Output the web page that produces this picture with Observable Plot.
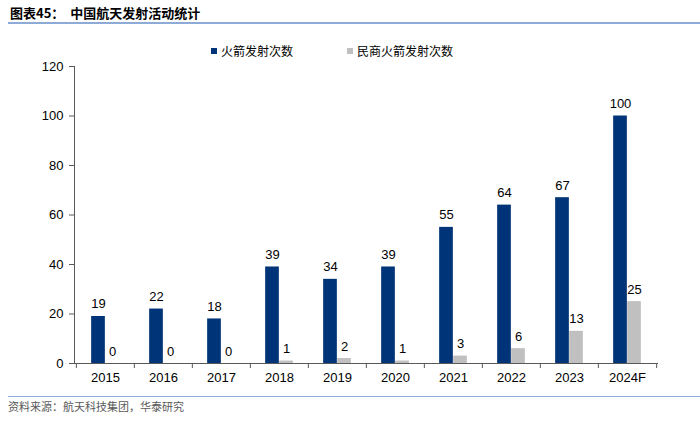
<!DOCTYPE html>
<html>
<head>
<meta charset="utf-8">
<script src="https://cdn.jsdelivr.net/npm/d3@7"></script>
<script src="https://cdn.jsdelivr.net/npm/@observablehq/plot@0.6"></script>
<style>
  body { margin: 0; background: #fff; }
  #wrap { position: relative; width: 700px; height: 421px; overflow: hidden; background: #fff; }
  #title { position: absolute; left: 10px; top: 3px; font-size: 13px; font-weight: bold; color: #000;
           font-family: "Noto Sans CJK SC", "Liberation Sans", sans-serif; white-space: nowrap; }
  #tline { position: absolute; left: 8px; right: 0; top: 22px; height: 2px; background: #8eaad6; }
  #legend { position: absolute; top: 42px; left: 0; width: 700px; height: 18px;
            font-family: "Noto Sans CJK SC", sans-serif; font-size: 12px; color: #000; }
  .li { position: absolute; top: 0; display: flex; align-items: center; white-space: nowrap; }
  .sw { width: 6px; height: 6px; margin-right: 4px; }
  #chart { position: absolute; left: 0; top: 54px; }
  #cline { position: absolute; left: 8px; right: 0; top: 396px; height: 1px; background: #8eaad6; }
  #caption { position: absolute; left: 8px; top: 398px; font-size: 11px; color: #595959;
             font-family: "Noto Sans CJK SC", sans-serif; white-space: nowrap; }
</style>
</head>
<body>
<div id="wrap">
  <div id="title">图表45：&nbsp;&nbsp;中国航天发射活动统计</div>
  <div id="tline"></div>
  <div id="legend"></div>
  <div id="chart"></div>
  <div id="cline"></div>
  <div id="caption">资料来源：航天科技集团，华泰研究</div>
</div>
<script>
const years = ["2015","2016","2017","2018","2019","2020","2021","2022","2023","2024F"];
const launches = [19, 22, 18, 39, 34, 39, 55, 64, 67, 100];
const commercial = [0, 0, 0, 1, 2, 1, 3, 6, 13, 25];
const seriesNames = ["火箭发射次数", "民商火箭发射次数"];
const seriesColors = ["#003478", "#c0c0c0"];
const yTicks = [0, 20, 40, 60, 80, 100, 120];

const W = 700, H = 336, mL = 74, mR = 43, mT = 12, mB = 27;
const bw = (W - mL - mR) / years.length;
const barW = 14;

const rowsA = years.map((y, i) => ({year: y, value: launches[i]}));
const rowsB = years.map((y, i) => ({year: y, value: commercial[i]}));

const plot = Plot.plot({
  width: W, height: H,
  marginLeft: mL, marginRight: mR, marginTop: mT, marginBottom: mB,
  style: {fontFamily: "'Liberation Sans', Arial, sans-serif", fontSize: "13px", color: "#000", background: "transparent"},
  x: {domain: years, padding: 0, label: null},
  y: {domain: [0, 120], label: null},
  marks: [
    Plot.barY(rowsA, {x: "year", y: "value", fill: seriesColors[0], insetLeft: bw / 2 - barW, insetRight: bw / 2}),
    Plot.barY(rowsB, {x: "year", y: "value", fill: seriesColors[1], insetLeft: bw / 2, insetRight: bw / 2 - barW}),
    Plot.text(rowsA, {x: "year", y: "value", text: d => String(d.value), dx: -barW / 2, dy: -8, lineAnchor: "bottom", fill: "#000", fontSize: 13}),
    Plot.text(rowsB, {x: "year", y: "value", text: d => String(d.value), dx: barW / 2, dy: -8, lineAnchor: "bottom", fill: "#000", fontSize: 13}),
    Plot.axisY({ticks: yTicks, tickSize: 5, tickPadding: 6, stroke: "#595959", fill: "#000", fontSize: 13, label: null}),
    Plot.axisX({tickSize: 0, tickPadding: 9, fill: "#000", fontSize: 13, label: null}),
    Plot.frame({anchor: "left", stroke: "#595959"}),
    Plot.frame({anchor: "bottom", stroke: "#595959"}),
    Plot.ruleX(years, {x: d => d, y1: 0, y2: 0, dx: -bw / 2, insetBottom: -5, stroke: "#595959"}),
    Plot.ruleX([years[years.length - 1]], {x: d => d, y1: 0, y2: 0, dx: bw / 2, insetBottom: -5, stroke: "#595959"})
  ]
});
document.getElementById("chart").appendChild(plot);

const legend = document.getElementById("legend");
const legendX = [211, 347];
seriesNames.forEach((name, i) => {
  const item = document.createElement("div");
  item.className = "li";
  item.style.left = legendX[i] + "px";
  const sw = document.createElement("span");
  sw.className = "sw";
  sw.style.background = seriesColors[i];
  const t = document.createElement("span");
  t.textContent = name;
  item.appendChild(sw);
  item.appendChild(t);
  legend.appendChild(item);
});
</script>
</body>
</html>
